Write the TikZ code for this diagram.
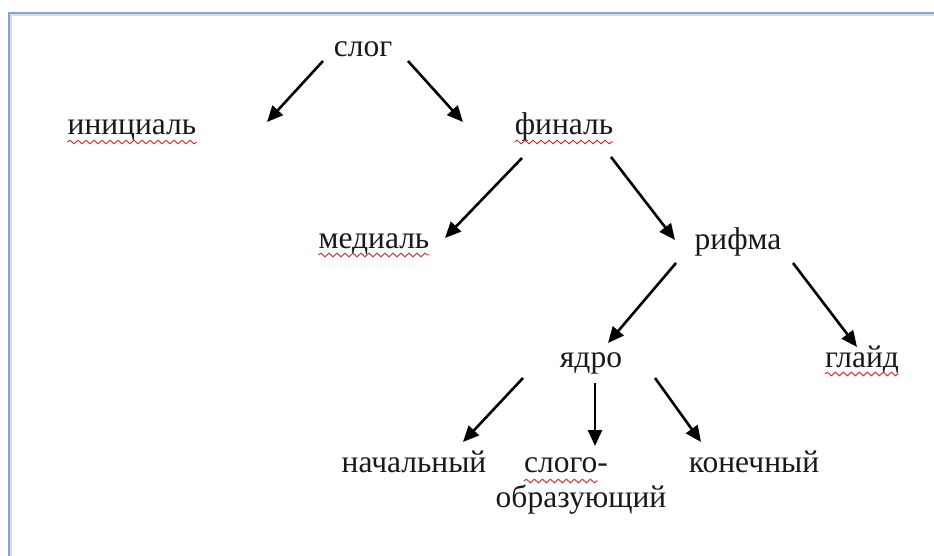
\documentclass[tikz,border=0pt]{standalone}
\usepackage{fontspec}
\setmainfont{Liberation Serif}
\usetikzlibrary{arrows.meta,decorations.pathmorphing}
\definecolor{frameblue}{RGB}{140,164,198}
\definecolor{framelight}{RGB}{205,224,242}
\definecolor{wavered}{RGB}{200,40,40}
\tikzset{
  word/.style={anchor=base, inner sep=0pt, font=\fontsize{31.5}{36}\selectfont, text=black!90},
  arr/.style={line width=2.6pt, -{Triangle[length=16pt,width=14pt]}},
  wavy/.style={draw=wavered, line width=0.9pt, decorate, decoration={snake, amplitude=1.8pt, segment length=8pt}}
}
\begin{document}
\begin{tikzpicture}[x=1pt,y=-1pt]
\useasboundingbox (0,0) rectangle (934,556);
% frame
\draw[framelight, line width=1.5pt] (11,556) -- (11,15) -- (934,15);
\draw[frameblue, line width=2pt] (9,556) -- (9,13) -- (934,13);

% nodes
\node[word] (slog)   at (363,57)  {слог};
\node[word] (inic)   at (132,135) {инициаль};
\node[word] (final)  at (564,135) {финаль};
\node[word] (medial) at (374,248) {медиаль};
\node[word] (rifma)  at (738,249) {рифма};
\node[word] (yadro)  at (591,367) {ядро};
\node[word] (glide)  at (862,367) {глайд};
\node[word] (nach)   at (414,472) {начальный};
\node[word] (slogo)  at (566,472) {слого-};
\node[word] (obraz)  at (581,507) {образующий};
\node[word] (konech) at (754,472) {конечный};

% wavy underlines
\foreach \n in {inic,final,medial,glide}{
  \draw[wavy] ([yshift=-7pt]\n.base west) -- ([yshift=-7pt]\n.base east);
}
\draw[wavy] ([yshift=-9pt]slogo.base west) -- ([yshift=-9pt,xshift=-10pt]slogo.base east);

% arrows
\draw[arr] ([shift={(-40,4)}]slog.base) -- ([shift={(135,-13)}]inic.base);
\draw[arr] ([shift={(45,4)}]slog.base) -- ([shift={(-101,-13)}]final.base);
\draw[arr] ([shift={(-42,23)}]final.base) -- ([shift={(71,-10)}]medial.base);
\draw[arr] ([shift={(47,22)}]final.base) -- ([shift={(-63,-9)}]rifma.base);
\draw[arr] ([shift={(-62,14)}]rifma.base) -- ([shift={(17,-24)}]yadro.base);
\draw[arr] ([shift={(55,14)}]rifma.base) -- ([shift={(-5,-20)}]glide.base);
\draw[arr] ([shift={(-68,11)}]yadro.base) -- ([shift={(49,-30)}]nach.base);
\draw[arr] ([shift={(4,16)}]yadro.base) -- ([shift={(29,-26)}]slogo.base);
\draw[arr] ([shift={(64,11)}]yadro.base) -- ([shift={(-53,-30)}]konech.base);
\end{tikzpicture}
\end{document}
